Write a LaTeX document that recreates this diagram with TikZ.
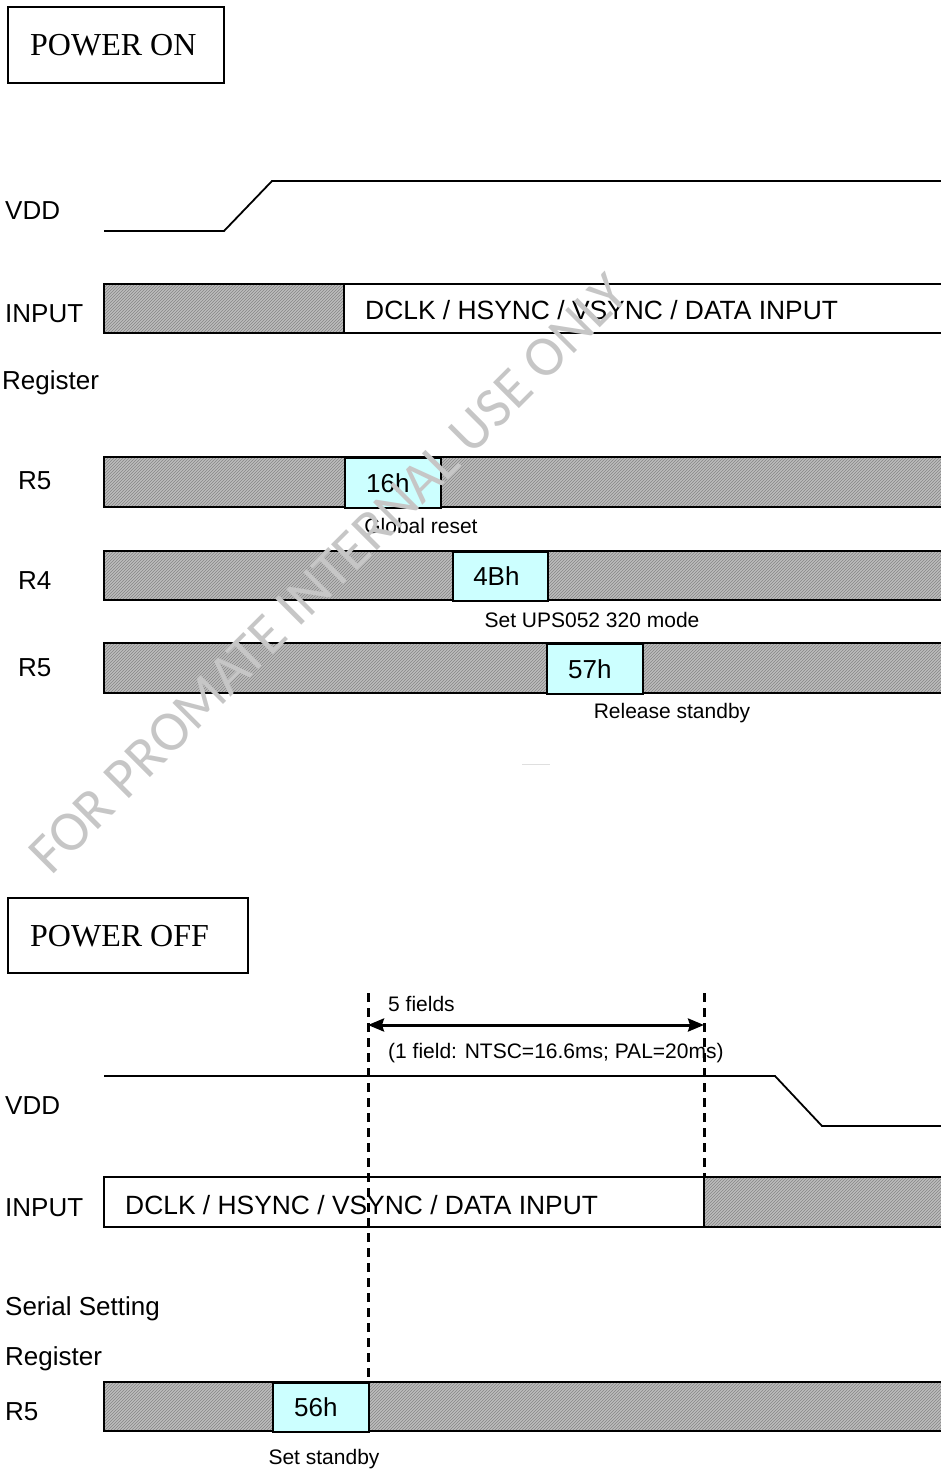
\documentclass[tikz,border=0pt]{standalone}
\usepackage{fontspec}
\setmainfont{Liberation Sans}
\newfontfamily\serifbox{Liberation Serif}
\newfontfamily\wmfont{Carlito}
\usetikzlibrary{patterns,arrows.meta}
\definecolor{regcyan}{RGB}{204,255,255}
\definecolor{wmgray}{RGB}{198,198,198}
\begin{document}
\begin{tikzpicture}[x=1pt,y=-1pt,
  lbl/.style={anchor=base west, inner sep=0pt, font=\fontsize{26}{30}\selectfont},
  small/.style={anchor=base, inner sep=0pt, font=\fontsize{21}{25}\selectfont},
  hatch/.style={draw, line width=1.8pt, preaction={fill=gray!52}, pattern=north east lines, pattern color=gray!95},
  plainbar/.style={draw, line width=1.8pt, fill=white},
  regval/.style={draw, line width=1.8pt, fill=regcyan, inner sep=0pt, anchor=north west, font=\fontsize{26}{30}\selectfont},
  wave/.style={line width=1.8pt, line join=miter},
  titlebox/.style={draw, line width=1.6pt, inner sep=0pt},
  titletext/.style={anchor=base west, inner sep=0pt, font=\serifbox\fontsize{32}{36}\selectfont},
  guide/.style={line width=3pt, dash pattern=on 9pt off 6pt},
  span/.style={line width=3pt, {Stealth[length=16pt,width=13pt,inset=2pt]}-{Stealth[length=16pt,width=13pt,inset=2pt]}}
]
\useasboundingbox (0,0) rectangle (941,1469);
\clip (0,0) rectangle (941,1469);

% ---------------- POWER ON ----------------
\node[titlebox, minimum width=216pt, minimum height=76pt] (pon) at (116,45) {};
\node[titletext] (pontxt) at (30,56) {POWER ON};

\node[lbl] (vddA) at (5,219) {VDD};
\draw[wave] (104,231) -- (224,231) -- (272,181) -- (960,181);

\node[lbl] (inA) at (5,322) {INPUT};
\draw[plainbar] (344,284) rectangle (960,333);
\draw[hatch] (104,284) rectangle (344,333);
\node[anchor=base west, inner sep=0pt, font=\fontsize{26.4}{30}\selectfont] (sigA) at (365,319) {DCLK / HSYNC / VSYNC / DATA INPUT};

\node[lbl] (regA) at (2,389) {Register};

\node[lbl] (r5a) at (18,489) {R5};
\draw[hatch] (104,457) rectangle (960,507);
\node[regval, minimum width=96pt, minimum height=50pt] (v16) at (344,457) {\kern-10pt16h};
\node[small] (gr) at (421,533) {Global reset};

\node[lbl] (r4a) at (18,589) {R4};
\draw[hatch] (104,551) rectangle (960,600);
\node[regval, minimum width=95pt, minimum height=49pt] (v4b) at (452,551) {\kern-8pt4Bh};
\node[small] (ups) at (592,627) {Set UPS052 320 mode};

\node[lbl] (r5b) at (18,676) {R5};
\draw[hatch] (104,643) rectangle (960,693);
\node[regval, minimum width=96pt, minimum height=50pt] (v57) at (546,643) {\kern-10pt57h};
\node[small] (rel) at (672,718) {Release standby};

\draw[gray!25, line width=1pt] (522,764) -- (550,764);

% ---------------- POWER OFF ----------------
\node[titlebox, minimum width=240pt, minimum height=75pt] (poff) at (128,935.5) {};
\node[titletext] (pofftxt) at (30,946) {POWER OFF};

\coordinate (dLtop) at (368,993);
\coordinate (dRtop) at (704,993);
\coordinate (aL) at (368,1025);
\coordinate (aR) at (704,1025);
\draw[span] (aL) -- (aR);
\node[anchor=base west, inner sep=0pt, font=\fontsize{21}{25}\selectfont] (five) at (388,1011) {5 fields};
\node[anchor=base west, inner sep=0pt, font=\fontsize{21}{25}\selectfont] (fld) at (388,1058) {(1 field: NTSC=16.6ms; PAL=20ms)};

\node[lbl] (vddB) at (5,1114) {VDD};
\draw[wave] (104,1076) -- (775,1076) -- (822,1126) -- (960,1126);

\node[lbl] (inB) at (5,1216) {INPUT};
\draw[plainbar] (104,1177) rectangle (704,1227);
\draw[hatch] (704,1177) rectangle (960,1227);
\node[anchor=base west, inner sep=0pt, font=\fontsize{26.4}{30}\selectfont] (sigB) at (125,1214) {DCLK / HSYNC / VSYNC / DATA INPUT};

\node[lbl] (ser) at (5,1315) {Serial Setting};
\node[lbl] (regB) at (5,1365) {Register};

\node[lbl] (r5c) at (5,1420) {R5};
\draw[hatch] (104,1382) rectangle (960,1431);
\node[regval, minimum width=96pt, minimum height=49pt] (v56) at (272,1382) {\kern-10pt56h};
\node[small] (sst) at (324,1464) {Set standby};

\coordinate (dLbot) at (368,1382);
\coordinate (dRbot) at (704,1177);
\draw[guide] (dLtop) -- (dLbot);
\draw[guide] (dRtop) -- (dRbot);

% watermark
\node[rotate=45, text=wmgray, inner sep=0pt, font=\wmfont\fontsize{57}{60}\selectfont] (wm) at (328,574) {FOR PROMATE INTERNAL USE ONLY};
\end{tikzpicture}
\end{document}
